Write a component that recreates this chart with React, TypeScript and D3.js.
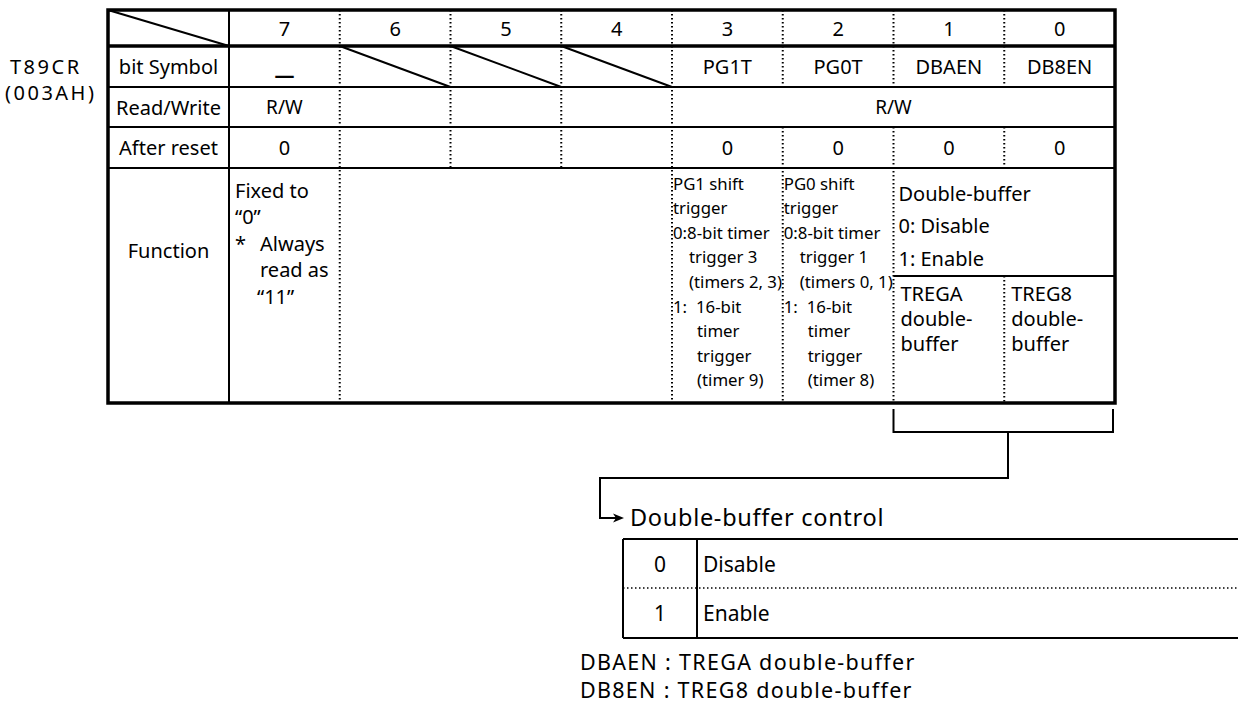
import React from "react";
import * as d3 from "d3";

// ---- data ----
const registerName = "T89CR";
const registerAddress = "(003AH)";
const bits = ["7", "6", "5", "4", "3", "2", "1", "0"];
const rowLabels = ["bit Symbol", "Read/Write", "After reset", "Function"];
const bitSymbols = ["—", "", "", "", "PG1T", "PG0T", "DBAEN", "DB8EN"];
const unusedBits = ["6", "5", "4"];
const readWriteGroups = [
  { from: "7", to: "7", text: "R/W" },
  { from: "3", to: "0", text: "R/W" },
];
const resetValues = ["0", "", "", "", "0", "0", "0", "0"];
const bit7Function = ["Fixed to", "“0”", "*", "Always", "read as", "“11”"];
const pg1Function = ["PG1 shift", "trigger", "0:8-bit timer", "trigger 3", "(timers 2, 3)", "1:", "16-bit", "timer", "trigger", "(timer 9)"];
const pg0Function = ["PG0 shift", "trigger", "0:8-bit timer", "trigger 1", "(timers 0, 1)", "1:", "16-bit", "timer", "trigger", "(timer 8)"];
const dbCommon = ["Double-buffer", "0: Disable", "1: Enable"];
const dbaenFunction = ["TREGA", "double-", "buffer"];
const db8enFunction = ["TREG8", "double-", "buffer"];
const controlTitle = "Double-buffer control";
const controlValues = ["0", "1"];
const controlMeanings = ["Disable", "Enable"];
const footnotes = ["DBAEN : TREGA double-buffer", "DB8EN : TREG8 double-buffer"];

const FONT = "'Noto Sans', 'Open Sans', sans-serif";

export default function App() {
  const left = 108;
  const labelRight = 229;
  const right = 1115;
  const rowEdges = [10, 46, 87, 127, 168, 403];
  const subLine = 276;
  const x = d3.scaleBand<string>().domain(bits).range([labelRight, right]);
  const bw = x.bandwidth();
  const cx = (b: string) => (x(b) as number) + bw / 2;
  const rowMid = (i: number) => (rowEdges[i] + rowEdges[i + 1]) / 2;
  const line = d3.line<[number, number]>();

  const dotted = { stroke: "#000", strokeWidth: 2, strokeDasharray: "1.6,2.4", fill: "none" };
  const thin = { stroke: "#000", strokeWidth: 2, fill: "none" };

  const seps: { b: string; segs: [number, number][] }[] = [
    { b: "6", segs: [[rowEdges[0], rowEdges[5]]] },
    { b: "5", segs: [[rowEdges[0], rowEdges[4]]] },
    { b: "4", segs: [[rowEdges[0], rowEdges[4]]] },
    { b: "3", segs: [[rowEdges[0], rowEdges[5]]] },
    { b: "2", segs: [[rowEdges[0], rowEdges[2]], [rowEdges[3], rowEdges[5]]] },
    { b: "1", segs: [[rowEdges[0], rowEdges[2]], [rowEdges[3], rowEdges[5]]] },
    { b: "0", segs: [[rowEdges[0], rowEdges[2]], [rowEdges[3], rowEdges[4]], [subLine, rowEdges[5]]] },
  ];

  const fs = 20;
  const small = 16.8;
  const fnTop = 183;
  const fnStep = 24.6;

  const col3 = x("3") as number;
  const col2 = x("2") as number;
  const col1 = x("1") as number;
  const col0 = x("0") as number;
  const col7 = x("7") as number;

  const pgLines = (arr: string[], x0: number) => {
    const offs = [1, 1, 1, 17, 17, 1, 24, 25, 25, 25];
    const rows = [0, 1, 2, 3, 4, 5, 5, 6, 7, 8];
    return arr.map((t, i) => (
      <text key={t + i} x={x0 + offs[i]} y={fnTop + rows[i] * fnStep} fontSize={small} dominantBaseline="central">
        {t}
      </text>
    ));
  };

  const b7x = [col7 + 6, col7 + 6, col7 + 6, col7 + 31, col7 + 31, col7 + 28];
  const b7y = [190, 216.5, 243, 243, 269.5, 296];

  const tLeft = 623;
  const tDiv = 697;
  const tTop = 539;
  const tBot = 638;
  const tMid = 588;
  const tRows = [tTop, tMid, tBot];

  return (
    <svg width={1238} height={715} style={{ position: "absolute", left: 0, top: 0, background: "#fff" }} fontFamily={FONT} fill="#000">
      <rect x={0} y={0} width={1238} height={715} fill="#fff" />
      <text x={10} y={66} fontSize={20} letterSpacing={2.5} dominantBaseline="central">{registerName}</text>
      <text x={5} y={92} fontSize={20} letterSpacing={2.5} dominantBaseline="central">{registerAddress}</text>

      {rowEdges.slice(1, 5).map((yy, i) => (
        <path key={"h" + i} d={line([[left, yy], [right, yy]]) as string} stroke="#000" strokeWidth={i === 0 ? 3.5 : 2} fill="none" />
      ))}
      <path d={line([[col1, subLine], [right, subLine]]) as string} {...thin} />
      <path d={line([[labelRight, rowEdges[0]], [labelRight, rowEdges[5]]]) as string} {...thin} />
      {seps.map((s) =>
        s.segs.map((sg, j) => (
          <path key={s.b + j} d={line([[x(s.b) as number, sg[0]], [x(s.b) as number, sg[1]]]) as string} {...dotted} />
        ))
      )}
      <path d={line([[left, rowEdges[0]], [labelRight, rowEdges[1]]]) as string} {...thin} />
      {unusedBits.map((b) => (
        <path key={"d" + b} d={line([[x(b) as number, rowEdges[1]], [(x(b) as number) + bw, rowEdges[2]]]) as string} {...thin} />
      ))}
      <rect x={left} y={rowEdges[0]} width={right - left} height={rowEdges[5] - rowEdges[0]} fill="none" stroke="#000" strokeWidth={3.5} />

      {bits.map((b) => (
        <text key={"n" + b} x={cx(b)} y={rowMid(0)} fontSize={fs} textAnchor="middle" dominantBaseline="central">{b}</text>
      ))}
      {rowLabels.map((r, i) => (
        <text key={r} x={(left + labelRight) / 2} y={i === 3 ? 250 : rowMid(i + 1)} fontSize={fs} textAnchor="middle" dominantBaseline="central">{r}</text>
      ))}
      {bitSymbols.map((s, i) =>
        s ? (
          <text key={"s" + i} x={cx(bits[i])} y={s === "—" ? rowMid(1) + 8 : rowMid(1)} fontSize={fs} fontWeight={s === "—" ? "bold" : "normal"} textAnchor="middle" dominantBaseline="central">{s}</text>
        ) : null
      )}
      {readWriteGroups.map((g) => {
        const x0 = x(g.from) as number;
        const x1 = (x(g.to) as number) + bw;
        return (
          <text key={g.from} x={(x0 + x1) / 2} y={rowMid(2)} fontSize={fs - 1} textAnchor="middle" dominantBaseline="central">{g.text}</text>
        );
      })}
      {resetValues.map((v, i) =>
        v ? (
          <text key={"r" + i} x={cx(bits[i])} y={rowMid(3)} fontSize={fs} textAnchor="middle" dominantBaseline="central">{v}</text>
        ) : null
      )}
      {bit7Function.map((t, i) => (
        <text key={"f7" + i} x={b7x[i]} y={b7y[i]} fontSize={fs} dominantBaseline="central">{t}</text>
      ))}
      {pgLines(pg1Function, col3)}
      {pgLines(pg0Function, col2)}
      {dbCommon.map((t, i) => (
        <text key={"db" + i} x={col1 + 5} y={193 + i * 32.5} fontSize={fs} dominantBaseline="central">{t}</text>
      ))}
      {dbaenFunction.map((t, i) => (
        <text key={"da" + i} x={col1 + 7} y={293 + i * 25} fontSize={fs} dominantBaseline="central">{t}</text>
      ))}
      {db8enFunction.map((t, i) => (
        <text key={"d8" + i} x={col0 + 7} y={293 + i * 25} fontSize={fs} dominantBaseline="central">{t}</text>
      ))}

      <path d={line([[col1, 409], [col1, 432], [right - 2, 432], [right - 2, 409]]) as string} {...thin} />
      <path d={line([[1008, 432], [1008, 478], [600, 478], [600, 518], [616, 518]]) as string} {...thin} />
      <path d="M624,518 L613,513.5 L616,518 L613,522.5 Z" fill="#000" />
      <text x={630} y={517} fontSize={23.5} letterSpacing={0.7} dominantBaseline="central">{controlTitle}</text>

      <path d={line([[tLeft, tTop], [1238, tTop]]) as string} {...thin} />
      <path d={line([[tLeft, tBot], [1238, tBot]]) as string} {...thin} />
      <path d={line([[tLeft, tTop], [tLeft, tBot]]) as string} {...thin} />
      <path d={line([[tDiv, tTop], [tDiv, tBot]]) as string} {...thin} />
      <path d={line([[tLeft, tMid], [1238, tMid]]) as string} stroke="#000" strokeWidth={1.5} strokeDasharray="1.5,2.5" fill="none" />
      {controlValues.map((v, i) => (
        <text key={"cv" + i} x={(tLeft + tDiv) / 2} y={(tRows[i] + tRows[i + 1]) / 2} fontSize={21} textAnchor="middle" dominantBaseline="central">{v}</text>
      ))}
      {controlMeanings.map((v, i) => (
        <text key={"cm" + i} x={tDiv + 6} y={(tRows[i] + tRows[i + 1]) / 2} fontSize={21} dominantBaseline="central">{v}</text>
      ))}
      {footnotes.map((t, i) => (
        <text key={"fn" + i} x={580} y={661 + i * 28} fontSize={21.5} letterSpacing={1.3} dominantBaseline="central">{t}</text>
      ))}
    </svg>
  );
}
